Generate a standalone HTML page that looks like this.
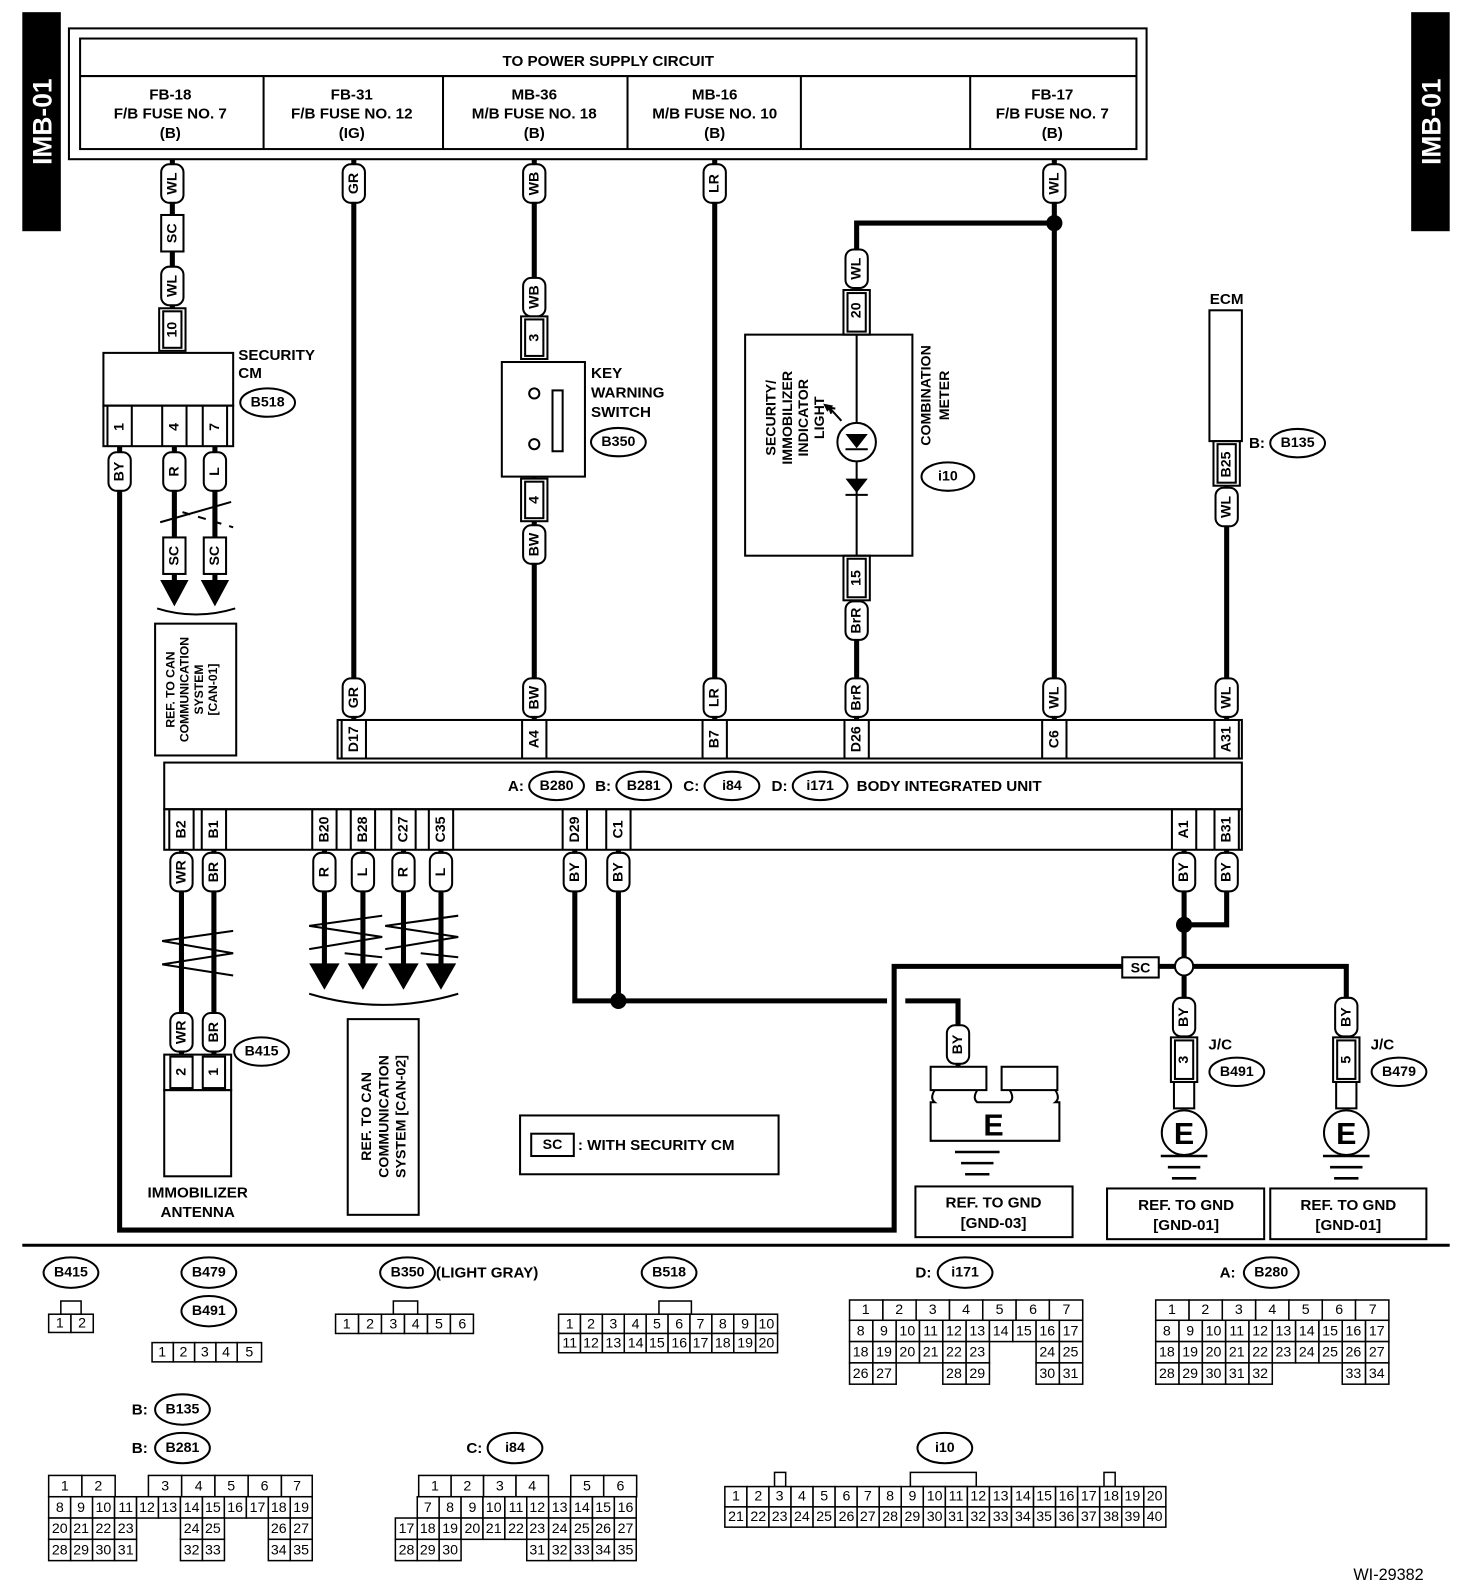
<!DOCTYPE html>
<html><head><meta charset="utf-8"><style>
html,body{margin:0;padding:0;background:#fff}
svg{display:block}
.t{font-family:"Liberation Sans",sans-serif;font-weight:bold;font-size:15px;fill:#000}
.n{font-family:"Liberation Sans",sans-serif;font-size:14px;fill:#000;text-anchor:middle;dominant-baseline:central}
.v{font-family:"Liberation Sans",sans-serif;font-weight:bold;font-size:14px;fill:#000;text-anchor:middle;dominant-baseline:central}
.pl{fill:#fff;stroke:#000;stroke-width:2}
.w{stroke:#000;stroke-width:5;fill:none}
.l{stroke:#000;stroke-width:2;fill:none}
.c{fill:#fff;stroke:#000;stroke-width:1.5}
.o{fill:#fff;stroke:#000;stroke-width:2}
</style></head><body>
<svg width="1472" height="1588" viewBox="0 0 1452 1566" preserveAspectRatio="none" xmlns="http://www.w3.org/2000/svg">
<rect width="1452" height="1566" fill="#fff"/>
<rect x="22" y="12" width="38" height="216" fill="#000"/>
<text class="t" style="fill:#fff;font-size:26px" text-anchor="middle" dominant-baseline="central" transform="translate(42,120) rotate(-90)">IMB-01</text>
<rect x="1392" y="12" width="38" height="216" fill="#000"/>
<text class="t" style="fill:#fff;font-size:26px" text-anchor="middle" dominant-baseline="central" transform="translate(1412,120) rotate(-90)">IMB-01</text>

<g class="w">
<path d="M170,157V345"/>
<path d="M349,157V710"/>
<path d="M527,157V350M527,470V710"/>
<path d="M705,157V710"/>
<path d="M1040,157V710"/>
<path d="M1040,220H845V330M845,548V710"/>
<path d="M1210,475V710"/>
<path d="M118,440V1213H882V953H1168"/>
<path d="M172,440V575M212,440V575"/>
<path d="M179,838V1040M211,838V1040"/>
<path d="M320,838V955M358,838V955M398,838V955M435,838V955"/>
<path d="M567,838V987H875M893,987H945V1052"/>
<path d="M610,838V987"/>
<path d="M1168,838V1025M1210,838V912H1168"/>
<path d="M1168,953H1328V1025"/>
</g>
<circle cx="1040" cy="220" r="8"/>
<circle cx="610" cy="987" r="8"/>
<circle cx="1168" cy="912" r="8"/>
<circle cx="1168" cy="953" r="9" class="o"/>
<g>
<path d="M158,572h28l-14,26z M198,572h28l-14,26z"/>
<path d="M305,950h30l-15,26z M343,950h30l-15,26z M383,950h30l-15,26z M420,950h30l-15,26z"/>
</g>
<g class="l">
<path d="M155,600Q193,612 232,600"/>
<path d="M305,980Q378,1002 452,980"/>
<path d="M158,515L228,495"/><path d="M180,505L230,520" stroke-dasharray="8,8"/>
<path d="M230,918L160,928L230,940L160,951L230,962"/>
<path d="M377,903L305,913L377,924L305,936M340,940L377,944" />
<path d="M452,903L380,913L452,924L380,936M415,940L452,944"/>
</g>

<rect x="68" y="28" width="1063" height="129" class="l"/>
<rect x="79" y="38" width="1042" height="109" class="l"/>
<path d="M79,75H1121M260,75V147M437,75V147M619,75V147M790,75V147M957,75V147" class="l"/>
<g class="t" text-anchor="middle">
<text x="600" y="65">TO POWER SUPPLY CIRCUIT</text>
<text x="168" y="98">FB-18</text><text x="168" y="117">F/B FUSE NO. 7</text><text x="168" y="136">(B)</text>
<text x="347" y="98">FB-31</text><text x="347" y="117">F/B FUSE NO. 12</text><text x="347" y="136">(IG)</text>
<text x="527" y="98">MB-36</text><text x="527" y="117">M/B FUSE NO. 18</text><text x="527" y="136">(B)</text>
<text x="705" y="98">MB-16</text><text x="705" y="117">M/B FUSE NO. 10</text><text x="705" y="136">(B)</text>
<text x="1038" y="98">FB-17</text><text x="1038" y="117">F/B FUSE NO. 7</text><text x="1038" y="136">(B)</text>
</g>

<g>
<rect class="pl" x="159" y="162" width="22" height="38" rx="8"/><text class="v" transform="translate(170,181) rotate(-90)">WL</text>
<rect class="pl" x="159" y="212" width="22" height="36"/><text class="v" transform="translate(170,230) rotate(-90)">SC</text>
<rect class="pl" x="159" y="263" width="22" height="38" rx="8"/><text class="v" transform="translate(170,282) rotate(-90)">WL</text>
<rect class="pl" x="338" y="162" width="22" height="38" rx="8"/><text class="v" transform="translate(349,181) rotate(-90)">GR</text>
<rect class="pl" x="516" y="162" width="22" height="38" rx="8"/><text class="v" transform="translate(527,181) rotate(-90)">WB</text>
<rect class="pl" x="694" y="162" width="22" height="38" rx="8"/><text class="v" transform="translate(705,181) rotate(-90)">LR</text>
<rect class="pl" x="1029" y="162" width="22" height="38" rx="8"/><text class="v" transform="translate(1040,181) rotate(-90)">WL</text>
<rect class="pl" x="516" y="274" width="22" height="38" rx="8"/><text class="v" transform="translate(527,293) rotate(-90)">WB</text>
<rect class="pl" x="516" y="518" width="22" height="38" rx="8"/><text class="v" transform="translate(527,537) rotate(-90)">BW</text>
<rect class="pl" x="834" y="246" width="22" height="38" rx="8"/><text class="v" transform="translate(845,265) rotate(-90)">WL</text>
<rect class="pl" x="834" y="593" width="22" height="38" rx="8"/><text class="v" transform="translate(845,612) rotate(-90)">BrR</text>
<rect class="pl" x="1199" y="481" width="22" height="38" rx="8"/><text class="v" transform="translate(1210,500) rotate(-90)">WL</text>
<rect class="pl" x="338" y="669" width="22" height="38" rx="8"/><text class="v" transform="translate(349,688) rotate(-90)">GR</text>
<rect class="pl" x="516" y="669" width="22" height="38" rx="8"/><text class="v" transform="translate(527,688) rotate(-90)">BW</text>
<rect class="pl" x="694" y="669" width="22" height="38" rx="8"/><text class="v" transform="translate(705,688) rotate(-90)">LR</text>
<rect class="pl" x="834" y="669" width="22" height="38" rx="8"/><text class="v" transform="translate(845,688) rotate(-90)">BrR</text>
<rect class="pl" x="1029" y="669" width="22" height="38" rx="8"/><text class="v" transform="translate(1040,688) rotate(-90)">WL</text>
<rect class="pl" x="1199" y="669" width="22" height="38" rx="8"/><text class="v" transform="translate(1210,688) rotate(-90)">WL</text>
<rect class="pl" x="107" y="446" width="22" height="38" rx="8"/><text class="v" transform="translate(118,465) rotate(-90)">BY</text>
<rect class="pl" x="161" y="446" width="22" height="38" rx="8"/><text class="v" transform="translate(172,465) rotate(-90)">R</text>
<rect class="pl" x="201" y="446" width="22" height="38" rx="8"/><text class="v" transform="translate(212,465) rotate(-90)">L</text>
<rect class="pl" x="161" y="530" width="22" height="36"/><text class="v" transform="translate(172,548) rotate(-90)">SC</text>
<rect class="pl" x="201" y="530" width="22" height="36"/><text class="v" transform="translate(212,548) rotate(-90)">SC</text>
<rect class="pl" x="168" y="841" width="22" height="38" rx="8"/><text class="v" transform="translate(179,860) rotate(-90)">WR</text>
<rect class="pl" x="200" y="841" width="22" height="38" rx="8"/><text class="v" transform="translate(211,860) rotate(-90)">BR</text>
<rect class="pl" x="309" y="841" width="22" height="38" rx="8"/><text class="v" transform="translate(320,860) rotate(-90)">R</text>
<rect class="pl" x="347" y="841" width="22" height="38" rx="8"/><text class="v" transform="translate(358,860) rotate(-90)">L</text>
<rect class="pl" x="387" y="841" width="22" height="38" rx="8"/><text class="v" transform="translate(398,860) rotate(-90)">R</text>
<rect class="pl" x="424" y="841" width="22" height="38" rx="8"/><text class="v" transform="translate(435,860) rotate(-90)">L</text>
<rect class="pl" x="556" y="841" width="22" height="38" rx="8"/><text class="v" transform="translate(567,860) rotate(-90)">BY</text>
<rect class="pl" x="599" y="841" width="22" height="38" rx="8"/><text class="v" transform="translate(610,860) rotate(-90)">BY</text>
<rect class="pl" x="1157" y="841" width="22" height="38" rx="8"/><text class="v" transform="translate(1168,860) rotate(-90)">BY</text>
<rect class="pl" x="1199" y="841" width="22" height="38" rx="8"/><text class="v" transform="translate(1210,860) rotate(-90)">BY</text>
<rect class="pl" x="168" y="999" width="22" height="38" rx="8"/><text class="v" transform="translate(179,1018) rotate(-90)">WR</text>
<rect class="pl" x="200" y="999" width="22" height="38" rx="8"/><text class="v" transform="translate(211,1018) rotate(-90)">BR</text>
<rect class="pl" x="934" y="1011" width="22" height="38" rx="8"/><text class="v" transform="translate(945,1030) rotate(-90)">BY</text>
<rect class="pl" x="1157" y="984" width="22" height="38" rx="8"/><text class="v" transform="translate(1168,1003) rotate(-90)">BY</text>
<rect class="pl" x="1317" y="984" width="22" height="38" rx="8"/><text class="v" transform="translate(1328,1003) rotate(-90)">BY</text>
<rect class="pl" x="1107" y="944" width="36" height="20"/><text class="v" x="1125" y="955">SC</text>
</g>

<g>
<rect class="pl" x="157" y="304" width="26" height="42"/><rect class="l" x="161" y="307" width="18" height="36"/><text class="v" transform="translate(170,325) rotate(-90)">10</text>
<rect class="pl" x="514" y="312" width="26" height="42"/><rect class="l" x="518" y="315" width="18" height="36"/><text class="v" transform="translate(527,333) rotate(-90)">3</text>
<rect class="pl" x="514" y="472" width="26" height="42"/><rect class="l" x="518" y="475" width="18" height="36"/><text class="v" transform="translate(527,493) rotate(-90)">4</text>
<rect class="pl" x="832" y="286" width="26" height="44"/><rect class="l" x="836" y="289" width="18" height="38"/><text class="v" transform="translate(845,306) rotate(-90)">20</text>
<rect class="pl" x="832" y="548" width="26" height="44"/><rect class="l" x="836" y="551" width="18" height="38"/><text class="v" transform="translate(845,570) rotate(-90)">15</text>
<rect class="pl" x="1197" y="435" width="26" height="44"/><rect class="l" x="1201" y="438" width="18" height="38"/><text class="v" transform="translate(1210,458) rotate(-90)">B25</text>
<rect class="pl" x="1155" y="1023" width="26" height="44"/><rect class="l" x="1159" y="1026" width="18" height="38"/><text class="v" transform="translate(1168,1045) rotate(-90)">3</text>
<rect class="pl" x="1315" y="1023" width="26" height="44"/><rect class="l" x="1319" y="1026" width="18" height="38"/><text class="v" transform="translate(1328,1045) rotate(-90)">5</text>
</g>

<rect class="l" x="102" y="348" width="128" height="52"/>
<rect class="l" x="102" y="400" width="128" height="40"/>
<path class="l" d="M106,400V440M130,400V440M160,400V440M184,400V440M200,400V440M224,400V440"/>
<text class="v" transform="translate(118,421) rotate(-90)">1</text>
<text class="v" transform="translate(172,421) rotate(-90)">4</text>
<text class="v" transform="translate(212,421) rotate(-90)">7</text>
<text class="t" x="235" y="355">SECURITY</text><text class="t" x="235" y="373">CM</text>
<ellipse class="o" cx="264" cy="397" rx="27" ry="14"/><text class="v" x="264" y="397">B518</text>

<rect class="l" x="153" y="615" width="80" height="130"/>
<g class="t" style="font-size:12px" text-anchor="middle">
<text transform="translate(172,680) rotate(-90)">REF. TO CAN</text>
<text transform="translate(186,680) rotate(-90)">COMMUNICATION</text>
<text transform="translate(200,680) rotate(-90)">SYSTEM</text>
<text transform="translate(214,680) rotate(-90)">[CAN-01]</text>
</g>

<rect class="l" x="495" y="357" width="82" height="113"/>
<circle class="l" cx="527" cy="388" r="5"/><circle class="l" cx="527" cy="438" r="5"/>
<rect class="l" x="545" y="385" width="10" height="60"/>
<text class="t" x="583" y="373">KEY</text><text class="t" x="583" y="392">WARNING</text><text class="t" x="583" y="411">SWITCH</text>
<ellipse class="o" cx="610" cy="436" rx="27" ry="14"/><text class="v" x="610" y="436">B350</text>

<rect class="l" x="735" y="330" width="165" height="218"/>
<path class="l" d="M845,330V548"/>
<circle cx="845" cy="436" r="19" class="o"/>
<path d="M834,428h22l-11,14z M834,472h22l-11,14z"/>
<path class="l" d="M834,443h22M834,488h22"/>
<path class="l" d="M830,415L818,402l6,1M818,402l2,6M818,402l-3,0"/><path d="M812,398l10,2l-6,6z"/>
<g class="t" style="font-size:14px" text-anchor="middle">
<text transform="translate(765,412) rotate(-90)">SECURITY/</text>
<text transform="translate(781,412) rotate(-90)">IMMOBILIZER</text>
<text transform="translate(797,412) rotate(-90)">INDICATOR</text>
<text transform="translate(813,412) rotate(-90)">LIGHT</text>
<text transform="translate(918,390) rotate(-90)">COMBINATION</text>
<text transform="translate(936,390) rotate(-90)">METER</text>
</g>
<ellipse class="o" cx="935" cy="470" rx="26" ry="14"/><text class="v" x="935" y="470">i10</text>

<rect class="l" x="1193" y="306" width="32" height="129"/>
<text class="t" x="1210" y="300" text-anchor="middle">ECM</text>
<text class="t" x="1232" y="442">B:</text>
<ellipse class="o" cx="1280" cy="437" rx="27" ry="14"/><text class="v" x="1280" y="437">B135</text>

<rect class="l" x="333" y="710" width="892" height="38"/>
<rect class="l" x="162" y="752" width="1063" height="46"/>
<rect class="l" x="162" y="798" width="1063" height="40"/>
<path class="l" d="M337,710V748M361,710V748M515,710V748M539,710V748M693,710V748M717,710V748M833,710V748M857,710V748M1028,710V748M1052,710V748M1198,710V748M1222,710V748"/>
<path class="l" d="M167,798V838M191,798V838M199,798V838M223,798V838M308,798V838M332,798V838M346,798V838M370,798V838M386,798V838M410,798V838M423,798V838M447,798V838M555,798V838M579,798V838M598,798V838M622,798V838M1156,798V838M1180,798V838M1198,798V838M1222,798V838"/>
<g class="v">
<text transform="translate(349,729) rotate(-90)">D17</text>
<text transform="translate(527,729) rotate(-90)">A4</text>
<text transform="translate(705,729) rotate(-90)">B7</text>
<text transform="translate(845,729) rotate(-90)">D26</text>
<text transform="translate(1040,729) rotate(-90)">C6</text>
<text transform="translate(1210,729) rotate(-90)">A31</text>
<text transform="translate(179,818) rotate(-90)">B2</text>
<text transform="translate(211,818) rotate(-90)">B1</text>
<text transform="translate(320,818) rotate(-90)">B20</text>
<text transform="translate(358,818) rotate(-90)">B28</text>
<text transform="translate(398,818) rotate(-90)">C27</text>
<text transform="translate(435,818) rotate(-90)">C35</text>
<text transform="translate(567,818) rotate(-90)">D29</text>
<text transform="translate(610,818) rotate(-90)">C1</text>
<text transform="translate(1168,818) rotate(-90)">A1</text>
<text transform="translate(1210,818) rotate(-90)">B31</text>
</g>
<text class="t" x="501" y="780">A:</text>
<ellipse class="o" cx="549" cy="775" rx="27" ry="14"/><text class="v" x="549" y="775">B280</text>
<text class="t" x="587" y="780">B:</text>
<ellipse class="o" cx="635" cy="775" rx="27" ry="14"/><text class="v" x="635" y="775">B281</text>
<text class="t" x="674" y="780">C:</text>
<ellipse class="o" cx="722" cy="775" rx="27" ry="14"/><text class="v" x="722" y="775">i84</text>
<text class="t" x="761" y="780">D:</text>
<ellipse class="o" cx="809" cy="775" rx="27" ry="14"/><text class="v" x="809" y="775">i171</text>
<text class="t" x="845" y="780">BODY INTEGRATED UNIT</text>

<rect class="l" x="162" y="1040" width="66" height="35"/>
<rect class="pl" x="168" y="1042" width="22" height="31"/><rect class="pl" x="200" y="1042" width="22" height="31"/>
<text class="v" transform="translate(179,1057) rotate(-90)">2</text>
<text class="v" transform="translate(211,1057) rotate(-90)">1</text>
<rect class="l" x="162" y="1075" width="66" height="85"/>
<text class="t" x="195" y="1181" text-anchor="middle">IMMOBILIZER</text>
<text class="t" x="195" y="1200" text-anchor="middle">ANTENNA</text>
<ellipse class="o" cx="258" cy="1037" rx="27" ry="14"/><text class="v" x="258" y="1037">B415</text>

<rect class="l" x="343" y="1005" width="70" height="193"/>
<g class="t" style="font-size:14px" text-anchor="middle">
<text transform="translate(366,1101) rotate(-90)">REF. TO CAN</text>
<text transform="translate(383,1101) rotate(-90)">COMMUNICATION</text>
<text transform="translate(400,1101) rotate(-90)">SYSTEM [CAN-02]</text>
</g>

<rect class="l" x="513" y="1100" width="255" height="58"/>
<rect class="pl" x="524" y="1118" width="42" height="22"/><text class="v" x="545" y="1129">SC</text>
<text class="t" x="570" y="1134">: WITH SECURITY CM</text>

<rect class="l" x="918" y="1052" width="55" height="23"/>
<rect class="l" x="988" y="1052" width="55" height="23"/>
<path class="l" d="M922,1075q-5,8 0,12h-4v38h127v-38h-4q5,-4 0,-12M964,1075q-5,8 0,12h32q5,-4 0,-12"/>
<text class="t" x="980" y="1120" text-anchor="middle" style="font-size:30px">E</text>
<path class="l" d="M942,1136h44M948,1147h32M952,1158h24" style="stroke-width:2.5"/>
<rect class="l" x="1158" y="1067" width="20" height="26"/>
<rect class="l" x="1318" y="1067" width="20" height="26"/>
<circle class="l" cx="1168" cy="1117" r="22"/><text class="t" x="1168" y="1128" text-anchor="middle" style="font-size:30px">E</text>
<circle class="l" cx="1328" cy="1117" r="22"/><text class="t" x="1328" y="1128" text-anchor="middle" style="font-size:30px">E</text>
<path class="l" d="M1145,1140h46M1152,1151h32M1156,1162h24M1305,1140h46M1312,1151h32M1316,1162h24" style="stroke-width:2.5"/>
<text class="t" x="1192" y="1035">J/C</text>
<ellipse class="o" cx="1220" cy="1057" rx="27" ry="14"/><text class="v" x="1220" y="1057">B491</text>
<text class="t" x="1352" y="1035">J/C</text>
<ellipse class="o" cx="1380" cy="1057" rx="27" ry="14"/><text class="v" x="1380" y="1057">B479</text>

<rect class="l" x="903" y="1170" width="155" height="50"/>
<text class="t" x="980" y="1191" text-anchor="middle">REF. TO GND</text><text class="t" x="980" y="1211" text-anchor="middle">[GND-03]</text>
<rect class="l" x="1092" y="1172" width="155" height="50"/>
<text class="t" x="1170" y="1193" text-anchor="middle">REF. TO GND</text><text class="t" x="1170" y="1213" text-anchor="middle">[GND-01]</text>
<rect class="l" x="1253" y="1172" width="154" height="50"/>
<text class="t" x="1330" y="1193" text-anchor="middle">REF. TO GND</text><text class="t" x="1330" y="1213" text-anchor="middle">[GND-01]</text>

<path d="M22,1228H1430" stroke="#000" stroke-width="3"/>

<g>
<ellipse class="o" cx="70" cy="1255" rx="27" ry="15"/><text class="v" x="70" y="1255">B415</text>
<ellipse class="o" cx="206" cy="1255" rx="27" ry="15"/><text class="v" x="206" y="1255">B479</text>
<ellipse class="o" cx="206" cy="1293" rx="27" ry="15"/><text class="v" x="206" y="1293">B491</text>
<ellipse class="o" cx="402" cy="1255" rx="27" ry="15"/><text class="v" x="402" y="1255">B350</text><text class="t" x="430" y="1260">(LIGHT GRAY)</text>
<ellipse class="o" cx="660" cy="1255" rx="27" ry="15"/><text class="v" x="660" y="1255">B518</text>
<text class="t" x="903" y="1260">D:</text><ellipse class="o" cx="952" cy="1255" rx="27" ry="15"/><text class="v" x="952" y="1255">i171</text>
<text class="t" x="1203" y="1260">A:</text><ellipse class="o" cx="1254" cy="1255" rx="27" ry="15"/><text class="v" x="1254" y="1255">B280</text>
<text class="t" x="130" y="1395">B:</text><ellipse class="o" cx="180" cy="1390" rx="27" ry="15"/><text class="v" x="180" y="1390">B135</text>
<text class="t" x="130" y="1433">B:</text><ellipse class="o" cx="180" cy="1428" rx="27" ry="15"/><text class="v" x="180" y="1428">B281</text>
<text class="t" x="460" y="1433">C:</text><ellipse class="o" cx="508" cy="1428" rx="27" ry="15"/><text class="v" x="508" y="1428">i84</text>
<ellipse class="o" cx="932" cy="1428" rx="27" ry="15"/><text class="v" x="932" y="1428">i10</text>
<text class="t" x="1335" y="1558" style="font-weight:normal;font-size:16px">WI-29382</text>
</g>

<g class="c">
<rect x="60" y="1283" width="20" height="13"/>
<rect x="48" y="1296" width="22" height="18"/><rect x="70" y="1296" width="22" height="18"/>
<rect x="150" y="1324" width="21" height="19"/><rect x="171" y="1324" width="21" height="19"/><rect x="192" y="1324" width="21" height="19"/><rect x="213" y="1324" width="21" height="19"/><rect x="234" y="1324" width="24" height="19"/>
<rect x="388" y="1283" width="24" height="13"/>
<rect x="331" y="1296" width="22.7" height="19"/><rect x="353.7" y="1296" width="22.7" height="19"/><rect x="376.3" y="1296" width="22.7" height="19"/><rect x="399" y="1296" width="22.7" height="19"/><rect x="421.7" y="1296" width="22.7" height="19"/><rect x="444.3" y="1296" width="22.7" height="19"/>
<rect x="650" y="1283" width="32" height="13"/>
<rect x="551" y="1296" width="21.6" height="19"/><rect x="572.6" y="1296" width="21.6" height="19"/><rect x="594.2" y="1296" width="21.6" height="19"/><rect x="615.8" y="1296" width="21.6" height="19"/><rect x="637.4" y="1296" width="21.6" height="19"/><rect x="659" y="1296" width="21.6" height="19"/><rect x="680.6" y="1296" width="21.6" height="19"/><rect x="702.2" y="1296" width="21.6" height="19"/><rect x="723.8" y="1296" width="21.6" height="19"/><rect x="745.4" y="1296" width="21.6" height="19"/>
<rect x="551" y="1315" width="21.6" height="19"/><rect x="572.6" y="1315" width="21.6" height="19"/><rect x="594.2" y="1315" width="21.6" height="19"/><rect x="615.8" y="1315" width="21.6" height="19"/><rect x="637.4" y="1315" width="21.6" height="19"/><rect x="659" y="1315" width="21.6" height="19"/><rect x="680.6" y="1315" width="21.6" height="19"/><rect x="702.2" y="1315" width="21.6" height="19"/><rect x="723.8" y="1315" width="21.6" height="19"/><rect x="745.4" y="1315" width="21.6" height="19"/>
<rect x="838" y="1282" width="32.9" height="20"/><rect x="870.9" y="1282" width="32.9" height="20"/><rect x="903.7" y="1282" width="32.9" height="20"/><rect x="936.6" y="1282" width="32.9" height="20"/><rect x="969.4" y="1282" width="32.9" height="20"/><rect x="1002.3" y="1282" width="32.9" height="20"/><rect x="1035.1" y="1282" width="32.9" height="20"/>
<rect x="838" y="1302" width="23" height="21"/><rect x="861" y="1302" width="23" height="21"/><rect x="884" y="1302" width="23" height="21"/><rect x="907" y="1302" width="23" height="21"/><rect x="930" y="1302" width="23" height="21"/><rect x="953" y="1302" width="23" height="21"/><rect x="976" y="1302" width="23" height="21"/><rect x="999" y="1302" width="23" height="21"/><rect x="1022" y="1302" width="23" height="21"/><rect x="1045" y="1302" width="23" height="21"/>
<rect x="838" y="1323" width="23" height="21"/><rect x="861" y="1323" width="23" height="21"/><rect x="884" y="1323" width="23" height="21"/><rect x="907" y="1323" width="23" height="21"/><rect x="930" y="1323" width="23" height="21"/><rect x="953" y="1323" width="23" height="21"/><rect x="1022" y="1323" width="23" height="21"/><rect x="1045" y="1323" width="23" height="21"/>
<rect x="838" y="1344" width="23" height="21"/><rect x="861" y="1344" width="23" height="21"/><rect x="930" y="1344" width="23" height="21"/><rect x="953" y="1344" width="23" height="21"/><rect x="1022" y="1344" width="23" height="21"/><rect x="1045" y="1344" width="23" height="21"/>
<rect x="1140" y="1282" width="32.9" height="20"/><rect x="1172.9" y="1282" width="32.9" height="20"/><rect x="1205.7" y="1282" width="32.9" height="20"/><rect x="1238.6" y="1282" width="32.9" height="20"/><rect x="1271.4" y="1282" width="32.9" height="20"/><rect x="1304.3" y="1282" width="32.9" height="20"/><rect x="1337.1" y="1282" width="32.9" height="20"/>
<rect x="1140" y="1302" width="23" height="21"/><rect x="1163" y="1302" width="23" height="21"/><rect x="1186" y="1302" width="23" height="21"/><rect x="1209" y="1302" width="23" height="21"/><rect x="1232" y="1302" width="23" height="21"/><rect x="1255" y="1302" width="23" height="21"/><rect x="1278" y="1302" width="23" height="21"/><rect x="1301" y="1302" width="23" height="21"/><rect x="1324" y="1302" width="23" height="21"/><rect x="1347" y="1302" width="23" height="21"/>
<rect x="1140" y="1323" width="23" height="21"/><rect x="1163" y="1323" width="23" height="21"/><rect x="1186" y="1323" width="23" height="21"/><rect x="1209" y="1323" width="23" height="21"/><rect x="1232" y="1323" width="23" height="21"/><rect x="1255" y="1323" width="23" height="21"/><rect x="1278" y="1323" width="23" height="21"/><rect x="1301" y="1323" width="23" height="21"/><rect x="1324" y="1323" width="23" height="21"/><rect x="1347" y="1323" width="23" height="21"/>
<rect x="1140" y="1344" width="23" height="21"/><rect x="1163" y="1344" width="23" height="21"/><rect x="1186" y="1344" width="23" height="21"/><rect x="1209" y="1344" width="23" height="21"/><rect x="1232" y="1344" width="23" height="21"/><rect x="1324" y="1344" width="23" height="21"/><rect x="1347" y="1344" width="23" height="21"/>
<rect x="48" y="1455" width="32.8" height="21"/><rect x="80.8" y="1455" width="32.8" height="21"/><rect x="146.4" y="1455" width="32.8" height="21"/><rect x="179.2" y="1455" width="32.8" height="21"/><rect x="212" y="1455" width="32.8" height="21"/><rect x="244.8" y="1455" width="32.8" height="21"/><rect x="277.6" y="1455" width="30.4" height="21"/>
<rect x="48" y="1476" width="21.7" height="21"/><rect x="69.7" y="1476" width="21.7" height="21"/><rect x="91.3" y="1476" width="21.7" height="21"/><rect x="113" y="1476" width="21.7" height="21"/><rect x="134.7" y="1476" width="21.7" height="21"/><rect x="156.3" y="1476" width="21.7" height="21"/><rect x="178" y="1476" width="21.7" height="21"/><rect x="199.7" y="1476" width="21.7" height="21"/><rect x="221.3" y="1476" width="21.7" height="21"/><rect x="243" y="1476" width="21.7" height="21"/><rect x="264.7" y="1476" width="21.7" height="21"/><rect x="286.3" y="1476" width="21.7" height="21"/>
<rect x="48" y="1497" width="21.7" height="21"/><rect x="69.7" y="1497" width="21.7" height="21"/><rect x="91.3" y="1497" width="21.7" height="21"/><rect x="113" y="1497" width="21.7" height="21"/><rect x="178" y="1497" width="21.7" height="21"/><rect x="199.7" y="1497" width="21.7" height="21"/><rect x="264.7" y="1497" width="21.7" height="21"/><rect x="286.3" y="1497" width="21.7" height="21"/>
<rect x="48" y="1518" width="21.7" height="21"/><rect x="69.7" y="1518" width="21.7" height="21"/><rect x="91.3" y="1518" width="21.7" height="21"/><rect x="113" y="1518" width="21.7" height="21"/><rect x="178" y="1518" width="21.7" height="21"/><rect x="199.7" y="1518" width="21.7" height="21"/><rect x="264.7" y="1518" width="21.7" height="21"/><rect x="286.3" y="1518" width="21.7" height="21"/>
<rect x="413" y="1455" width="32" height="21"/><rect x="445" y="1455" width="32" height="21"/><rect x="477" y="1455" width="32" height="21"/><rect x="509" y="1455" width="32" height="21"/><rect x="563" y="1455" width="32.5" height="21"/><rect x="595.5" y="1455" width="32.5" height="21"/>
<rect x="411.6" y="1476" width="21.6" height="21"/><rect x="433.2" y="1476" width="21.6" height="21"/><rect x="454.8" y="1476" width="21.6" height="21"/><rect x="476.4" y="1476" width="21.6" height="21"/><rect x="498" y="1476" width="21.6" height="21"/><rect x="519.6" y="1476" width="21.6" height="21"/><rect x="541.2" y="1476" width="21.6" height="21"/><rect x="562.8" y="1476" width="21.6" height="21"/><rect x="584.4" y="1476" width="21.6" height="21"/><rect x="606" y="1476" width="21.6" height="21"/>
<rect x="390" y="1497" width="21.6" height="21"/><rect x="411.6" y="1497" width="21.6" height="21"/><rect x="433.2" y="1497" width="21.6" height="21"/><rect x="454.8" y="1497" width="21.6" height="21"/><rect x="476.4" y="1497" width="21.6" height="21"/><rect x="498" y="1497" width="21.6" height="21"/><rect x="519.6" y="1497" width="21.6" height="21"/><rect x="541.2" y="1497" width="21.6" height="21"/><rect x="562.8" y="1497" width="21.6" height="21"/><rect x="584.4" y="1497" width="21.6" height="21"/><rect x="606" y="1497" width="21.6" height="21"/>
<rect x="390" y="1518" width="21.6" height="21"/><rect x="411.6" y="1518" width="21.6" height="21"/><rect x="433.2" y="1518" width="21.6" height="21"/><rect x="519.6" y="1518" width="21.6" height="21"/><rect x="541.2" y="1518" width="21.6" height="21"/><rect x="562.8" y="1518" width="21.6" height="21"/><rect x="584.4" y="1518" width="21.6" height="21"/><rect x="606" y="1518" width="21.6" height="21"/>
<rect x="764" y="1452" width="11" height="14"/><rect x="898" y="1452" width="65" height="14"/><rect x="1089" y="1452" width="11" height="14"/>
<rect x="715" y="1466" width="21.75" height="20"/><rect x="736.75" y="1466" width="21.75" height="20"/><rect x="758.5" y="1466" width="21.75" height="20"/><rect x="780.25" y="1466" width="21.75" height="20"/><rect x="802" y="1466" width="21.75" height="20"/><rect x="823.75" y="1466" width="21.75" height="20"/><rect x="845.5" y="1466" width="21.75" height="20"/><rect x="867.25" y="1466" width="21.75" height="20"/><rect x="889" y="1466" width="21.75" height="20"/><rect x="910.75" y="1466" width="21.75" height="20"/><rect x="932.5" y="1466" width="21.75" height="20"/><rect x="954.25" y="1466" width="21.75" height="20"/><rect x="976" y="1466" width="21.75" height="20"/><rect x="997.75" y="1466" width="21.75" height="20"/><rect x="1019.5" y="1466" width="21.75" height="20"/><rect x="1041.25" y="1466" width="21.75" height="20"/><rect x="1063" y="1466" width="21.75" height="20"/><rect x="1084.75" y="1466" width="21.75" height="20"/><rect x="1106.5" y="1466" width="21.75" height="20"/><rect x="1128.25" y="1466" width="21.75" height="20"/>
<rect x="715" y="1486" width="21.75" height="20"/><rect x="736.75" y="1486" width="21.75" height="20"/><rect x="758.5" y="1486" width="21.75" height="20"/><rect x="780.25" y="1486" width="21.75" height="20"/><rect x="802" y="1486" width="21.75" height="20"/><rect x="823.75" y="1486" width="21.75" height="20"/><rect x="845.5" y="1486" width="21.75" height="20"/><rect x="867.25" y="1486" width="21.75" height="20"/><rect x="889" y="1486" width="21.75" height="20"/><rect x="910.75" y="1486" width="21.75" height="20"/><rect x="932.5" y="1486" width="21.75" height="20"/><rect x="954.25" y="1486" width="21.75" height="20"/><rect x="976" y="1486" width="21.75" height="20"/><rect x="997.75" y="1486" width="21.75" height="20"/><rect x="1019.5" y="1486" width="21.75" height="20"/><rect x="1041.25" y="1486" width="21.75" height="20"/><rect x="1063" y="1486" width="21.75" height="20"/><rect x="1084.75" y="1486" width="21.75" height="20"/><rect x="1106.5" y="1486" width="21.75" height="20"/><rect x="1128.25" y="1486" width="21.75" height="20"/>
</g>

<g class="n">
<text x="59" y="1305">1</text><text x="81" y="1305">2</text>
<text x="160" y="1334">1</text><text x="181" y="1334">2</text><text x="202" y="1334">3</text><text x="223" y="1334">4</text><text x="246" y="1334">5</text>
<text x="342" y="1306">1</text><text x="365" y="1306">2</text><text x="388" y="1306">3</text><text x="410" y="1306">4</text><text x="433" y="1306">5</text><text x="456" y="1306">6</text>
<text x="562" y="1306">1</text><text x="583" y="1306">2</text><text x="605" y="1306">3</text><text x="627" y="1306">4</text><text x="648" y="1306">5</text><text x="670" y="1306">6</text><text x="691" y="1306">7</text><text x="713" y="1306">8</text><text x="735" y="1306">9</text><text x="756" y="1306">10</text>
<text x="562" y="1325">11</text><text x="583" y="1325">12</text><text x="605" y="1325">13</text><text x="627" y="1325">14</text><text x="648" y="1325">15</text><text x="670" y="1325">16</text><text x="691" y="1325">17</text><text x="713" y="1325">18</text><text x="735" y="1325">19</text><text x="756" y="1325">20</text>
<text x="854" y="1292">1</text><text x="887" y="1292">2</text><text x="920" y="1292">3</text><text x="953" y="1292">4</text><text x="986" y="1292">5</text><text x="1019" y="1292">6</text><text x="1052" y="1292">7</text>
<text x="849" y="1313">8</text><text x="872" y="1313">9</text><text x="895" y="1313">10</text><text x="918" y="1313">11</text><text x="941" y="1313">12</text><text x="964" y="1313">13</text><text x="987" y="1313">14</text><text x="1010" y="1313">15</text><text x="1033" y="1313">16</text><text x="1056" y="1313">17</text>
<text x="849" y="1334">18</text><text x="872" y="1334">19</text><text x="895" y="1334">20</text><text x="918" y="1334">21</text><text x="941" y="1334">22</text><text x="964" y="1334">23</text><text x="1033" y="1334">24</text><text x="1056" y="1334">25</text>
<text x="849" y="1355">26</text><text x="872" y="1355">27</text><text x="941" y="1355">28</text><text x="964" y="1355">29</text><text x="1033" y="1355">30</text><text x="1056" y="1355">31</text>
<text x="1156" y="1292">1</text><text x="1189" y="1292">2</text><text x="1222" y="1292">3</text><text x="1255" y="1292">4</text><text x="1288" y="1292">5</text><text x="1321" y="1292">6</text><text x="1354" y="1292">7</text>
<text x="1151" y="1313">8</text><text x="1174" y="1313">9</text><text x="1197" y="1313">10</text><text x="1220" y="1313">11</text><text x="1243" y="1313">12</text><text x="1266" y="1313">13</text><text x="1289" y="1313">14</text><text x="1312" y="1313">15</text><text x="1335" y="1313">16</text><text x="1358" y="1313">17</text>
<text x="1151" y="1334">18</text><text x="1174" y="1334">19</text><text x="1197" y="1334">20</text><text x="1220" y="1334">21</text><text x="1243" y="1334">22</text><text x="1266" y="1334">23</text><text x="1289" y="1334">24</text><text x="1312" y="1334">25</text><text x="1335" y="1334">26</text><text x="1358" y="1334">27</text>
<text x="1151" y="1355">28</text><text x="1174" y="1355">29</text><text x="1197" y="1355">30</text><text x="1220" y="1355">31</text><text x="1243" y="1355">32</text><text x="1335" y="1355">33</text><text x="1358" y="1355">34</text>
<text x="64" y="1466">1</text><text x="97" y="1466">2</text><text x="163" y="1466">3</text><text x="196" y="1466">4</text><text x="228" y="1466">5</text><text x="261" y="1466">6</text><text x="293" y="1466">7</text>
<text x="59" y="1487">8</text><text x="80" y="1487">9</text><text x="102" y="1487">10</text><text x="124" y="1487">11</text><text x="145" y="1487">12</text><text x="167" y="1487">13</text><text x="189" y="1487">14</text><text x="210" y="1487">15</text><text x="232" y="1487">16</text><text x="254" y="1487">17</text><text x="275" y="1487">18</text><text x="297" y="1487">19</text>
<text x="59" y="1508">20</text><text x="80" y="1508">21</text><text x="102" y="1508">22</text><text x="124" y="1508">23</text><text x="189" y="1508">24</text><text x="210" y="1508">25</text><text x="275" y="1508">26</text><text x="297" y="1508">27</text>
<text x="59" y="1529">28</text><text x="80" y="1529">29</text><text x="102" y="1529">30</text><text x="124" y="1529">31</text><text x="189" y="1529">32</text><text x="210" y="1529">33</text><text x="275" y="1529">34</text><text x="297" y="1529">35</text>
<text x="429" y="1466">1</text><text x="461" y="1466">2</text><text x="493" y="1466">3</text><text x="525" y="1466">4</text><text x="579" y="1466">5</text><text x="612" y="1466">6</text>
<text x="422" y="1487">7</text><text x="444" y="1487">8</text><text x="466" y="1487">9</text><text x="487" y="1487">10</text><text x="509" y="1487">11</text><text x="530" y="1487">12</text><text x="552" y="1487">13</text><text x="574" y="1487">14</text><text x="595" y="1487">15</text><text x="617" y="1487">16</text>
<text x="401" y="1508">17</text><text x="422" y="1508">18</text><text x="444" y="1508">19</text><text x="466" y="1508">20</text><text x="487" y="1508">21</text><text x="509" y="1508">22</text><text x="530" y="1508">23</text><text x="552" y="1508">24</text><text x="574" y="1508">25</text><text x="595" y="1508">26</text><text x="617" y="1508">27</text>
<text x="401" y="1529">28</text><text x="422" y="1529">29</text><text x="444" y="1529">30</text><text x="530" y="1529">31</text><text x="552" y="1529">32</text><text x="574" y="1529">33</text><text x="595" y="1529">34</text><text x="617" y="1529">35</text>
<text x="726" y="1476">1</text><text x="748" y="1476">2</text><text x="769" y="1476">3</text><text x="791" y="1476">4</text><text x="813" y="1476">5</text><text x="835" y="1476">6</text><text x="856" y="1476">7</text><text x="878" y="1476">8</text><text x="900" y="1476">9</text><text x="922" y="1476">10</text><text x="943" y="1476">11</text><text x="965" y="1476">12</text><text x="987" y="1476">13</text><text x="1009" y="1476">14</text><text x="1030" y="1476">15</text><text x="1052" y="1476">16</text><text x="1074" y="1476">17</text><text x="1096" y="1476">18</text><text x="1117" y="1476">19</text><text x="1139" y="1476">20</text>
<text x="726" y="1496">21</text><text x="748" y="1496">22</text><text x="769" y="1496">23</text><text x="791" y="1496">24</text><text x="813" y="1496">25</text><text x="835" y="1496">26</text><text x="856" y="1496">27</text><text x="878" y="1496">28</text><text x="900" y="1496">29</text><text x="922" y="1496">30</text><text x="943" y="1496">31</text><text x="965" y="1496">32</text><text x="987" y="1496">33</text><text x="1009" y="1496">34</text><text x="1030" y="1496">35</text><text x="1052" y="1496">36</text><text x="1074" y="1496">37</text><text x="1096" y="1496">38</text><text x="1117" y="1496">39</text><text x="1139" y="1496">40</text>
</g>
</svg>
</body></html>
